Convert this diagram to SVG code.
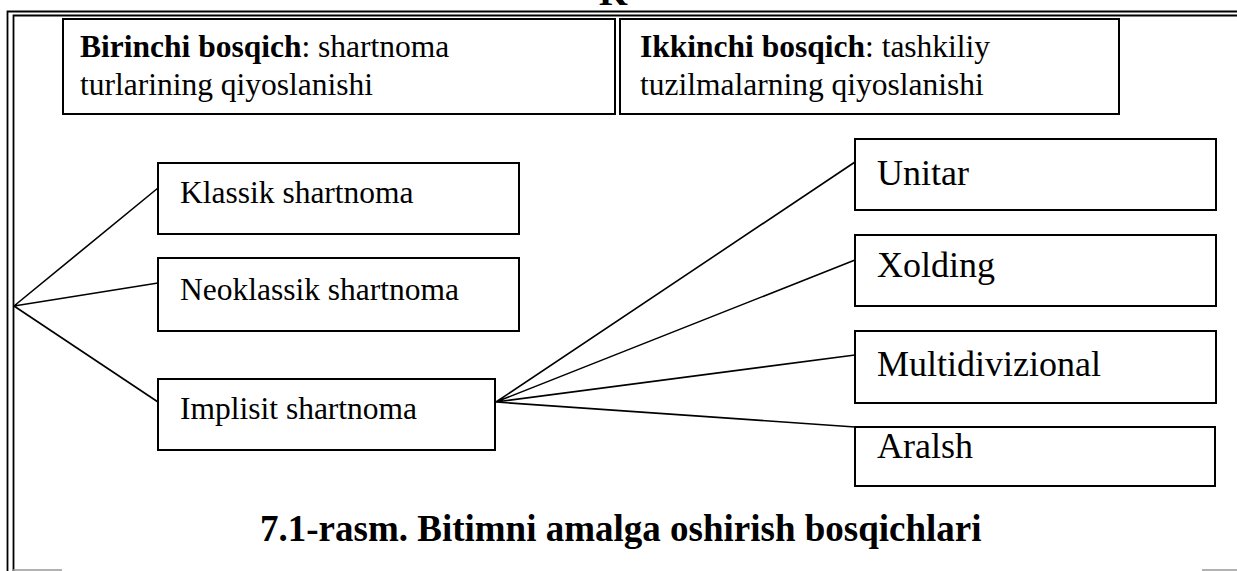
<svg xmlns="http://www.w3.org/2000/svg" width="1237" height="571" viewBox="0 0 1237 571">
<style>
.box{fill:#fff;stroke:#000;stroke-width:2}
.t{font-family:"Liberation Serif","Times New Roman",serif;fill:#000}
.s{font-size:31.5px}
.r{font-size:36px}
.b{font-weight:bold}
.ln{stroke:#000;stroke-width:1.6;fill:none}
.fr{stroke:#000;stroke-width:1.8;fill:none}
.gr{stroke:#999;stroke-width:1.5;fill:none}
</style>
<rect width="1237" height="571" fill="#fff"/>
<g id="frame">
<text class="t b" x="599" y="5" font-size="37">K</text>
<path class="fr" d="M7.5 571V11.5H1237"/>
<path class="fr" d="M13.5 571V15.5H1237"/>
<path class="gr" d="M13 570H62M1202 570H1237"/>
</g>
<g id="connectors">
<path class="ln" d="M14 306L158 188M14 306L158 283M14 306L158 402"/>
<path class="ln" d="M496 402L855 162M496 402L855 260M496 402L855 355M496 402L855 427"/>
</g>
<g id="stage1">
<rect class="box" x="63" y="19" width="552" height="95"/>
<text class="t s" x="80" y="57"><tspan class="b">Birinchi bosqich</tspan>: shartnoma</text>
<text class="t s" x="80" y="95">turlarining qiyoslanishi</text>
</g>
<g id="stage2">
<rect class="box" x="620" y="19" width="499" height="95"/>
<text class="t s" x="640" y="57"><tspan class="b">Ikkinchi bosqich</tspan>: tashkiliy</text>
<text class="t s" x="640" y="95">tuzilmalarning qiyoslanishi</text>
</g>
<g id="klassik">
<rect class="box" x="158" y="163" width="361" height="71"/>
<text class="t s" x="180" y="203">Klassik shartnoma</text>
</g>
<g id="neoklassik">
<rect class="box" x="158" y="258" width="361" height="73"/>
<text class="t s" x="180" y="300">Neoklassik shartnoma</text>
</g>
<g id="implisit">
<rect class="box" x="158" y="379" width="337" height="71"/>
<text class="t s" x="180" y="419">Implisit shartnoma</text>
</g>
<g id="unitar">
<rect class="box" x="855" y="139" width="361" height="71"/>
<text class="t r" x="877" y="185">Unitar</text>
</g>
<g id="xolding">
<rect class="box" x="855" y="235" width="361" height="71"/>
<text class="t r" x="877" y="277">Xolding</text>
</g>
<g id="multidivizional">
<rect class="box" x="855" y="331" width="361" height="72"/>
<text class="t r" x="877" y="376">Multidivizional</text>
</g>
<g id="aralsh">
<rect class="box" x="855" y="427" width="360" height="59"/>
<text class="t r" x="877" y="458">Aralsh</text>
</g>
<g id="caption">
<text class="t b" x="260" y="541" font-size="37">7.1-rasm. Bitimni amalga oshirish bosqichlari</text>
</g>
</svg>
